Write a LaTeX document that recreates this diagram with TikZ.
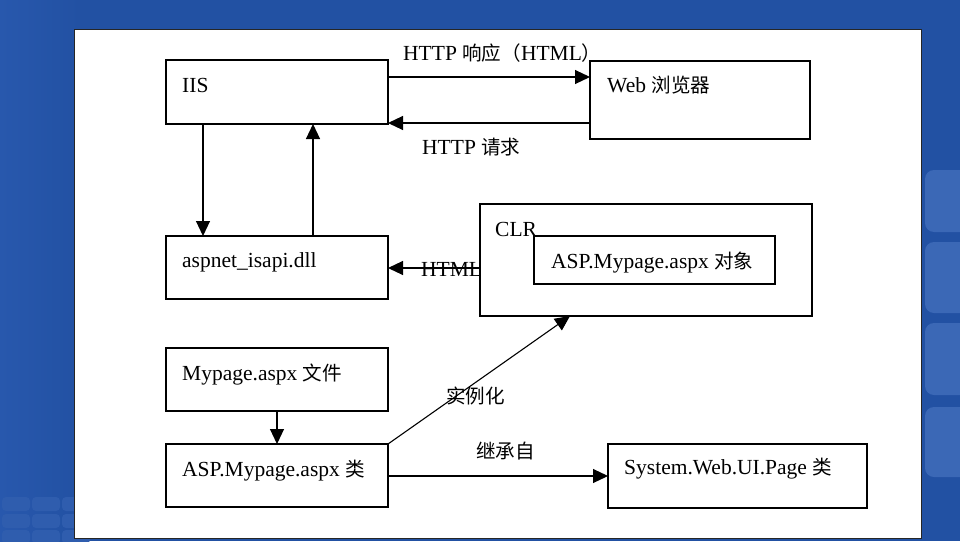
\documentclass[tikz,border=0pt]{standalone}
\usepackage{fontspec}
\setmainfont{Liberation Serif}
\newfontfamily\cjk[Scale=0.91]{Noto Sans CJK SC}
\usetikzlibrary{arrows.meta}
\definecolor{bgblue}{HTML}{2251A3}
\definecolor{bgleft}{HTML}{2858AD}
\definecolor{tile}{HTML}{3B68B6}
\definecolor{tilesoft}{HTML}{2F5DAE}
\begin{document}
\begin{tikzpicture}[x=1pt,y=-1pt,
  box/.style={draw=black, line width=1.1pt, fill=white, rectangle, inner sep=0pt, outer sep=0pt, anchor=north west},
  txt/.style={anchor=base west, inner sep=0pt, font=\fontsize{21.5}{26}\selectfont},
  arr/.style={line width=1.1pt, -{Triangle[length=15pt,width=14pt]}},
  tilebox/.style={fill=tile, rounded corners=9pt},
  softtile/.style={fill=tilesoft, rounded corners=4pt}]
\useasboundingbox (0,0) rectangle (960,541);
% background
\fill[bgblue] (0,0) rectangle (960,541);
\shade[left color=bgleft, right color=bgblue] (0,0) rectangle (80,541);
\begin{scope}
\clip (0,0) rectangle (960,541);
\fill[tilebox] (925,170) rectangle (980,232);
\fill[tilebox] (925,242) rectangle (980,313);
\fill[tilebox] (925,323) rectangle (980,395);
\fill[tilebox] (925,407) rectangle (980,477);
\foreach \yy in {497,514,530}{
  \foreach \xx in {2,32,62}{
    \fill[softtile] (\xx,\yy) rectangle ++(28,14);
  }
}
\end{scope}
% panel
\fill[white, draw=black!85, line width=0.8pt] (74,29) rectangle (921,538);
% boxes
\node[box, minimum width=222pt, minimum height=64pt] (iis) at (166,60) {};
\node[box, minimum width=220pt, minimum height=78pt] (web) at (590,61) {};
\node[box, minimum width=222pt, minimum height=63pt] (dll) at (166,236) {};
\node[box, minimum width=332pt, minimum height=112pt] (clr) at (480,204) {};
\node[box, minimum width=241pt, minimum height=48pt] (obj) at (534,236) {};
\node[box, minimum width=222pt, minimum height=63pt] (mp) at (166,348) {};
\node[box, minimum width=222pt, minimum height=63pt] (cls) at (166,444) {};
\node[box, minimum width=259pt, minimum height=64pt] (sys) at (608,444) {};
% box texts
\node[txt] (tiis) at (182,92) {IIS};
\node[txt] (tweb) at (607,92) {Web {\cjk 浏览器}};
\node[txt] (tdll) at (182,267) {aspnet\_isapi.dll};
\node[txt] (tclr) at (495,236) {CLR};
\node[txt] (tobj) at (551,268) {ASP.Mypage.aspx {\cjk 对象}};
\node[txt] (tmp) at (182,380) {Mypage.aspx {\cjk 文件}};
\node[txt] (tcls) at (182,476) {ASP.Mypage.aspx {\cjk 类}};
\node[txt] (tsys) at (624,474) {System.Web.UI.Page {\cjk 类}};
% connectors
\draw[arr] ([yshift=-17pt]iis.north east) -- ([yshift=-17pt]iis.north east -| web.west);
\draw[arr] ([yshift=-62pt]web.north west) -- ([yshift=-62pt]web.north west -| iis.east);
\draw[arr] ([xshift=37pt]iis.south west) -- ([xshift=37pt]iis.south west |- dll.north);
\draw[arr] ([xshift=147pt]dll.north west) -- ([xshift=147pt]dll.north west |- iis.south);
\draw[arr] ([yshift=-32pt]dll.north east -| clr.west) -- ([yshift=-32pt]dll.north east);
\draw[arr] ([xshift=111pt]mp.south west) -- ([xshift=111pt]mp.south west |- cls.north);
\draw[arr] (cls.north east) -- ([xshift=90pt]clr.south west);
\draw[arr] ([yshift=-32pt]cls.north east) -- ([yshift=-32pt]cls.north east -| sys.west);
% connector labels
\node[txt] (lresp) at (403,60) {HTTP {\cjk 响应（}HTML{\cjk ）}};
\node[txt] (lreq) at (422,154) {HTTP {\cjk 请求}};
\node[txt] (lhtml) at (421,276) {HTML};
\node[txt] (linst) at (446,403) {\cjk 实例化};
\node[txt] (linh) at (476,458) {\cjk 继承自};
\end{tikzpicture}
\end{document}
